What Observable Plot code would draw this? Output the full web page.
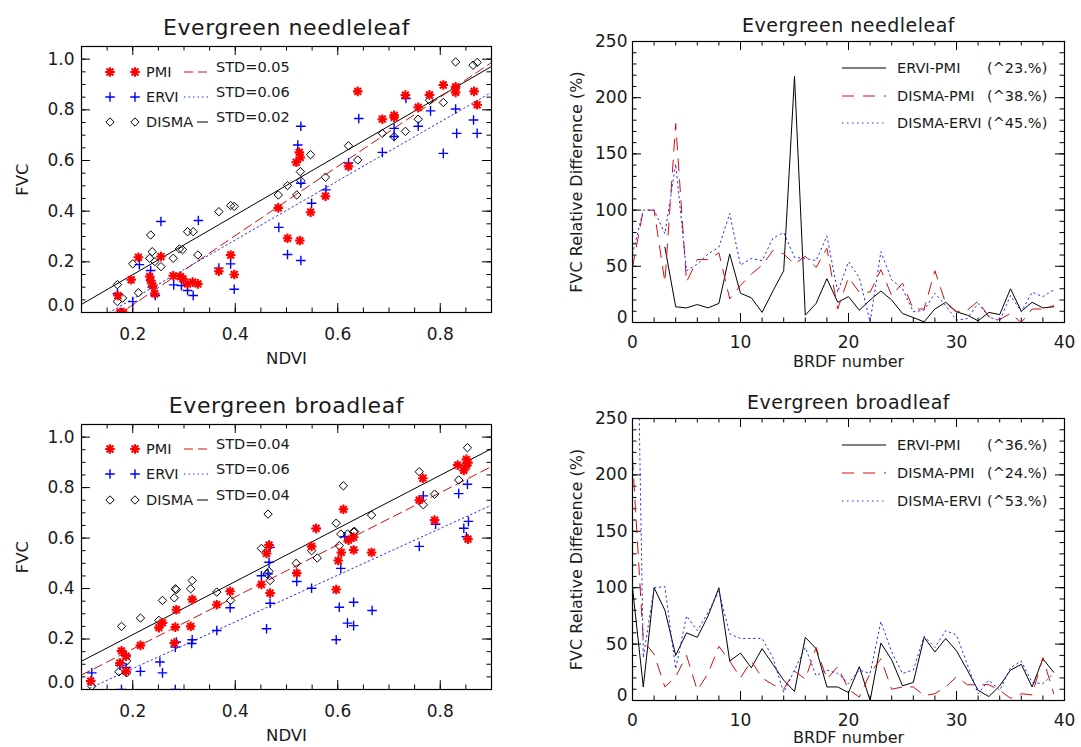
<!DOCTYPE html>
<html><head><meta charset="utf-8">
<script src="https://cdn.jsdelivr.net/npm/d3@7"></script>
<script src="https://cdn.jsdelivr.net/npm/@observablehq/plot@0.6"></script>
<style>
body{margin:0;background:#fff;}
#root{position:relative;width:1081px;height:747px;overflow:hidden;background:#fff;}
.panel{position:absolute;}
</style></head><body><div id="root"></div>
<script>
// ---------- DATA ----------
// Evergreen needleleaf scatter: [NDVI, FVC]
const needlePMI = [[0.171,0.067],[0.175,0.0],[0.182,0.0],[0.197,0.129],[0.211,0.218],[0.233,0.142],[0.235,0.126],[0.239,0.106],[0.243,0.074],[0.255,0.221],[0.279,0.145],[0.293,0.142],[0.298,0.133],[0.307,0.113],[0.317,0.12],[0.327,0.113],[0.368,0.163],[0.391,0.227],[0.398,0.150],[0.484,0.413],[0.502,0.293],[0.519,0.593],[0.525,0.632],[0.527,0.612],[0.526,0.284],[0.547,0.396],[0.576,0.459],[0.621,0.577],[0.639,0.873],[0.687,0.763],[0.710,0.770],[0.710,0.778],[0.732,0.858],[0.757,0.810],[0.779,0.859],[0.806,0.898],[0.830,0.891],[0.830,0.869],[0.866,0.873],[0.872,0.820]];
const needleERVI = [[0.170,0.074],[0.178,0.0],[0.200,0.043],[0.213,0.189],[0.235,0.166],[0.235,0.126],[0.238,0.100],[0.244,0.067],[0.255,0.359],[0.280,0.109],[0.295,0.106],[0.307,0.087],[0.318,0.067],[0.328,0.363],[0.368,0.175],[0.391,0.192],[0.398,0.092],[0.485,0.336],[0.502,0.229],[0.522,0.661],[0.528,0.735],[0.528,0.510],[0.528,0.205],[0.549,0.431],[0.577,0.484],[0.621,0.590],[0.641,0.766],[0.687,0.632],[0.710,0.727],[0.710,0.695],[0.733,0.845],[0.757,0.735],[0.781,0.796],[0.806,0.628],[0.830,0.803],[0.832,0.707],[0.865,0.760],[0.872,0.707]];
const needleDISMA = [[0.170,0.110],[0.170,0.043],[0.180,0.057],[0.200,0.192],[0.211,0.078],[0.235,0.306],[0.233,0.214],[0.238,0.240],[0.243,0.201],[0.255,0.181],[0.279,0.214],[0.291,0.251],[0.297,0.248],[0.307,0.319],[0.318,0.319],[0.327,0.227],[0.368,0.398],[0.391,0.422],[0.398,0.419],[0.484,0.464],[0.502,0.501],[0.520,0.464],[0.527,0.556],[0.528,0.520],[0.547,0.623],[0.576,0.534],[0.621,0.658],[0.639,0.602],[0.687,0.707],[0.710,0.694],[0.732,0.715],[0.757,0.763],[0.779,0.838],[0.806,0.829],[0.830,0.989],[0.830,0.885],[0.864,0.976],[0.872,0.987]];
// regression fits [slope, intercept]
const needleFitPMI = [1.367, -0.2435];
const needleFitERVI = [1.165, -0.1796];
const needleFitDISMA = [1.174, -0.0854];
const needleSTD = ["STD=0.05", "STD=0.06", "STD=0.02"];

// Evergreen broadleaf scatter
const broadPMI = [[0.118,0.033],[0.175,0.105],[0.178,0.153],[0.187,0.132],[0.187,0.072],[0.215,0.175],[0.251,0.245],[0.258,0.264],[0.285,0.316],[0.283,0.247],[0.281,0.184],[0.313,0.250],[0.316,0.357],[0.364,0.336],[0.390,0.389],[0.451,0.416],[0.461,0.539],[0.466,0.572],[0.468,0.382],[0.520,0.461],[0.549,0.567],[0.558,0.638],[0.597,0.396],[0.601,0.511],[0.607,0.543],[0.611,0.714],[0.621,0.592],[0.631,0.603],[0.631,0.553],[0.666,0.543],[0.759,0.750],[0.766,0.837],[0.789,0.671],[0.834,0.889],[0.846,0.868],[0.851,0.912],[0.851,0.886],[0.854,0.596],[0.854,0.899]];
const broadERVI = [[0.120,0.066],[0.178,0.0],[0.175,0.096],[0.187,0.136],[0.187,0.087],[0.215,0.072],[0.253,0.109],[0.258,0.066],[0.283,0.0],[0.283,0.168],[0.285,0.188],[0.315,0.182],[0.316,0.197],[0.364,0.234],[0.390,0.324],[0.451,0.451],[0.461,0.241],[0.464,0.458],[0.466,0.504],[0.468,0.563],[0.468,0.342],[0.520,0.428],[0.549,0.401],[0.558,0.638],[0.597,0.197],[0.603,0.326],[0.606,0.480],[0.614,0.605],[0.619,0.263],[0.631,0.346],[0.631,0.253],[0.667,0.313],[0.759,0.567],[0.767,0.767],[0.791,0.655],[0.836,0.776],[0.846,0.639],[0.851,0.605],[0.853,0.813],[0.855,0.666]];
const broadDISMA = [[0.120,0.013],[0.173,0.070],[0.178,0.250],[0.188,0.113],[0.188,0.066],[0.215,0.283],[0.251,0.274],[0.258,0.353],[0.281,0.363],[0.283,0.399],[0.285,0.396],[0.313,0.399],[0.316,0.432],[0.364,0.386],[0.391,0.353],[0.451,0.559],[0.464,0.695],[0.462,0.458],[0.466,0.468],[0.468,0.432],[0.519,0.500],[0.549,0.550],[0.560,0.521],[0.597,0.659],[0.603,0.570],[0.611,0.807],[0.606,0.616],[0.619,0.616],[0.631,0.625],[0.633,0.626],[0.666,0.691],[0.759,0.863],[0.767,0.732],[0.789,0.774],[0.836,0.830],[0.853,0.958]];
const broadFitPMI = [1.0325, -0.046];
const broadFitERVI = [0.925, -0.102];
const broadFitDISMA = [1.0525, 0.0068];
const broadSTD = ["STD=0.04", "STD=0.06", "STD=0.04"];

// BRDF relative differences (%), BRDF number 0..39
const brdfNumber = d3.range(40);
const needleErviPmi = [null,null,null,67,14,13,16,13,17,61,26,22,9,28,46,219,6.5,17,39,18,23,11,20,28,20,8,4.4,0.6,12,18,9.5,6.5,1.5,9,7,30,10,18,13,14];
const needleDismaPmi = [49,100,100,36,177,36,56,56,62,21,33,43,51,64,61,52,59,49,66,12,40,27,27,47,24,35,12,12,46,17,9.5,11,19,5,2.7,8,0,12,12,15];
const needleDismaErvi = [61,100,100,79,141,46,52,61,67,97,51,57,55,75,80,58,57,55,77,27,54,40,0.5,63,38,30,9.5,11,26,15,2,3.5,17,5,1.5,24,9.5,27,23,29];
const broadErviPmi = [100,12,100,80,40,60,56,75,100,35,42,29,46,32,18,8,56,46,12,12,7,30,0,51,36,13,16,56,43,55,44,27,9,3.5,13,27,32,12,37,25];
const broadDismaPmi = [215,53,41,12,21,40,9,24,48,35,20,35,20,14,10,26,19,47,19,30,10,3,24,37,10,12,12,4.4,6,12,21,14,14,14,9,2,6,5,38,6];
const broadDismaErvi = [600,38,100,101,28,75,62,78,97,59,55,55,55,38,7,27,47,22,27,24,15,27,24,70,43,24,27,57,47,62,58,32,6,18,9,29,35,16,15,24];
const needleMeans = ["(^23.%)", "(^38.%)", "(^45.%)"];
const broadMeans = ["(^36.%)", "(^24.%)", "(^53.%)"];
const pairNames = ["ERVI-PMI", "DISMA-PMI", "DISMA-ERVI"];
const methodNames = ["PMI", "ERVI", "DISMA"];

// ---------- STYLE ----------
const FONT = '"DejaVu Sans", sans-serif';
const RED = "#ff0000", DRED = "#d01010", BLUE = "#0000ff", DBLUE = "#2a2aff";

const symAsterisk = {draw(ctx, size){const r=Math.sqrt(size/Math.PI), d=r*Math.SQRT1_2;
  ctx.moveTo(-r,0);ctx.lineTo(r,0);ctx.moveTo(0,-r);ctx.lineTo(0,r);
  ctx.moveTo(-d,-d);ctx.lineTo(d,d);ctx.moveTo(-d,d);ctx.lineTo(d,-d);}};
const symPlus = {draw(ctx, size){const r=Math.sqrt(size/Math.PI);
  ctx.moveTo(-r,0);ctx.lineTo(r,0);ctx.moveTo(0,-r);ctx.lineTo(0,r);}};
const symDiamond = {draw(ctx, size){const r=Math.sqrt(size/Math.PI);
  ctx.moveTo(0,-r);ctx.lineTo(r,0);ctx.lineTo(0,r);ctx.lineTo(-r,0);ctx.closePath();}};

const methodStyle = {
  PMI: {sym: symAsterisk, stroke: RED, sw: 2.1, r: 4.8, line: DRED, dash: "9,5"},
  ERVI: {sym: symPlus, stroke: BLUE, sw: 1.4, r: 4.8, line: DBLUE, dash: "1.5,3"},
  DISMA: {sym: symDiamond, stroke: "black", sw: 1, r: 4.2, line: "black", dash: null}
};

function frameTicks(xMinor, xMajor, yMinor, yMajor, fw, fh){
  const s = {stroke: "black", strokeWidth: 1};
  return [
    Plot.tickX(xMinor, {x: d=>d, insetTop: fh-4.5, ...s}),
    Plot.tickX(xMinor, {x: d=>d, insetBottom: fh-4.5, ...s}),
    Plot.tickX(xMajor, {x: d=>d, insetTop: fh-9, ...s}),
    Plot.tickX(xMajor, {x: d=>d, insetBottom: fh-9, ...s}),
    Plot.tickY(yMinor, {y: d=>d, insetRight: fw-4.5, ...s}),
    Plot.tickY(yMinor, {y: d=>d, insetLeft: fw-4.5, ...s}),
    Plot.tickY(yMajor, {y: d=>d, insetRight: fw-9, ...s}),
    Plot.tickY(yMajor, {y: d=>d, insetLeft: fw-9, ...s})
  ];
}

function legend(svg, items){
  const g = d3.select(svg).append("g").attr("font-family", FONT).attr("fill", "#1a1a1a").attr("text-anchor", "start");
  for (const it of items){
    if (it.kind === "sym") g.append("path").attr("transform", `translate(${it.x},${it.y})`)
      .attr("d", d3.symbol(it.sym, Math.PI*it.r*it.r)()).attr("fill","none")
      .attr("stroke", it.stroke).attr("stroke-width", it.sw);
    else if (it.kind === "line") g.append("line").attr("x1",it.x1).attr("x2",it.x2).attr("y1",it.y).attr("y2",it.y)
      .attr("stroke", it.stroke).attr("stroke-width", 1).attr("stroke-dasharray", it.dash);
    else g.append("text").attr("x", it.x).attr("y", it.y).attr("dy","0.36em").attr("text-anchor","start")
      .attr("font-size", it.size).text(it.text);
  }
}

// IDL draws the lowest y tick label a little above its tick
function liftBottomLabel(svg, label, shift){
  d3.select(svg).selectAll('g[aria-label="y-axis tick label"] text').each(function(){
    if (this.textContent === label) d3.select(this).attr("dy", (parseFloat(d3.select(this).attr("dy")) || 0) - shift + "px");
  });
}

function place(node, left, top){
  const div = document.createElement("div");
  div.className = "panel"; div.style.left = left+"px"; div.style.top = top+"px";
  div.appendChild(node); document.getElementById("root").appendChild(div);
}

function scatterPanel(cfg){
  const {width, height, ml, mr, mt, mb} = cfg;
  const fw = width-ml-mr, fh = height-mt-mb;
  const xDom = [0.1, 0.9];
  const sets = {PMI: cfg.pmi, ERVI: cfg.ervi, DISMA: cfg.disma};
  const fits = {PMI: cfg.fitPMI, ERVI: cfg.fitERVI, DISMA: cfg.fitDISMA};
  const marks = [
    ...frameTicks(d3.range(0.1, 0.901, 0.05), [0.2,0.4,0.6,0.8], d3.range(0, 1.051, 0.05), [0,0.2,0.4,0.6,0.8,1.0], fw, fh)
  ];
  for (const m of ["DISMA","PMI","ERVI"]) {
    const st = methodStyle[m], [b, a] = fits[m];
    marks.push(Plot.line(xDom.map(x => ({x, y: a + b*x})), {x:"x", y:"y", stroke: st.line, strokeWidth: 1, strokeDasharray: st.dash, clip: true}));
  }
  for (const m of ["DISMA","ERVI","PMI"]) {
    const st = methodStyle[m];
    marks.push(Plot.dot(sets[m], {x: d=>d[0], y: d=>d[1], symbol: st.sym, r: st.r, fill: "none", stroke: st.stroke, strokeWidth: st.sw, clip: true}));
  }
  marks.push(
    Plot.frame({stroke: "black", strokeWidth: 1.2}),
    Plot.axisX([0.2,0.4,0.6,0.8], {tickSize: 0, tickPadding: 15, tickFormat: d3.format(".1f"), label: null}),
    Plot.axisY([0,0.2,0.4,0.6,0.8,1.0], {tickSize: 0, tickPadding: 7, tickFormat: d3.format(".1f"), label: null}),
    Plot.text([cfg.title], {text: d=>d, frameAnchor: "top", dy: cfg.titleDy, fontSize: 22, textAnchor: "middle", lineAnchor: "middle"}),
    Plot.text(["NDVI"], {text: d=>d, frameAnchor: "bottom", dy: cfg.xlabDy, fontSize: 16.5, textAnchor: "middle", lineAnchor: "middle"}),
    Plot.text(["FVC"], {text: d=>d, frameAnchor: "left", dx: -59, rotate: -90, fontSize: 16.5, textAnchor: "middle", lineAnchor: "middle"})
  );
  const p = Plot.plot({
    width, height, marginLeft: ml, marginRight: mr, marginTop: mt, marginBottom: mb,
    x: {domain: xDom}, y: {domain: [0, 1.05]},
    style: {fontFamily: FONT, fontSize: "17px", color: "#1a1a1a", background: "transparent", overflow: "visible"},
    marks
  });
  liftBottomLabel(p, "0.0", 7);
  d3.select(p).selectAll("text").filter(function(){ return this.textContent === cfg.title; }).attr("letter-spacing", "0.6px");
  const rows = cfg.rows, items = [];
  methodNames.forEach((m, i) => {
    const st = methodStyle[m], y = rows[i];
    items.push({kind:"sym", sym: st.sym, r: st.r, stroke: st.stroke, sw: st.sw, x: 110, y});
    items.push({kind:"sym", sym: st.sym, r: st.r, stroke: st.stroke, sw: st.sw, x: 135, y});
    items.push({kind:"text", x: 146, y, text: m, size: 14.5});
    items.push({kind:"line", x1: m === "DISMA" ? 197 : 184, x2: 208, y, stroke: st.line, dash: st.dash});
    items.push({kind:"text", x: 216, y: y-5, text: cfg.std[i], size: 14.5});
  });
  legend(p, items);
  place(p, cfg.left, cfg.top);
}

const pairStyle = [
  {stroke: "black", dash: null},
  {stroke: DRED, dash: "12,9"},
  {stroke: DBLUE, dash: "1.5,3.5"}
];

function diffPanel(cfg){
  const {width, height, ml, mr, mt, mb} = cfg;
  const fw = width-ml-mr, fh = height-mt-mb;
  const series = [cfg.s1, cfg.s2, cfg.s3];
  const marks = [...frameTicks(d3.range(0, 40.1, 2), [0,10,20,30,40], d3.range(0, 250.1, 10), [0,50,100,150,200,250], fw, fh)];
  series.forEach((s, k) => {
    marks.push(Plot.line(brdfNumber.map(i => ({i, v: s[i]})), {x: "i", y: "v", stroke: pairStyle[k].stroke, strokeDasharray: pairStyle[k].dash, strokeWidth: 1, clip: true}));
  });
  marks.push(
    Plot.frame({stroke: "black", strokeWidth: 1.2}),
    Plot.axisX([0,10,20,30,40], {tickSize: 0, tickPadding: 13, tickFormat: d3.format("d"), label: null}),
    Plot.axisY([0,50,100,150,200,250], {tickSize: 0, tickPadding: 5, tickFormat: d3.format("d"), label: null}),
    Plot.text([cfg.title], {text: d=>d, frameAnchor: "top", dy: cfg.titleDy, fontSize: 19, textAnchor: "middle", lineAnchor: "middle"}),
    Plot.text(["BRDF number"], {text: d=>d, frameAnchor: "bottom", dy: cfg.xlabDy, fontSize: 16, textAnchor: "middle", lineAnchor: "middle"}),
    Plot.text(["FVC Relative Difference (%)"], {text: d=>d, frameAnchor: "left", dx: -56, rotate: -90, fontSize: 16, textAnchor: "middle", lineAnchor: "middle"})
  );
  const p = Plot.plot({
    width, height, marginLeft: ml, marginRight: mr, marginTop: mt, marginBottom: mb,
    x: {domain: [0, 40]}, y: {domain: [0, 250]},
    style: {fontFamily: FONT, fontSize: "17px", color: "#1a1a1a", background: "transparent", overflow: "visible"},
    marks
  });
  liftBottomLabel(p, "0", 5);
  d3.select(p).selectAll("text").filter(function(){ return this.textContent === cfg.title; }).attr("letter-spacing", "0.5px");
  const items = [];
  pairNames.forEach((n, k) => {
    const y = cfg.rows[k];
    items.push({kind:"line", x1: 302, x2: 346, y, stroke: pairStyle[k].stroke, dash: pairStyle[k].dash});
    items.push({kind:"text", x: 357, y, text: n, size: 14.5});
    items.push({kind:"text", x: 447, y, text: cfg.means[k], size: 14.5});
  });
  legend(p, items);
  place(p, cfg.left, cfg.top);
}

scatterPanel({left: 0, top: 0, width: 540, height: 375, ml: 81, mr: 49, mt: 46, mb: 63,
  title: "Evergreen needleleaf", titleDy: -19, xlabDy: 46,
  pmi: needlePMI, ervi: needleERVI, disma: needleDISMA,
  fitPMI: needleFitPMI, fitERVI: needleFitERVI, fitDISMA: needleFitDISMA,
  std: needleSTD, rows: [72, 97, 122]});
scatterPanel({left: 0, top: 375, width: 540, height: 372, ml: 81, mr: 49, mt: 49, mb: 58,
  title: "Evergreen broadleaf", titleDy: -19, xlabDy: 46,
  pmi: broadPMI, ervi: broadERVI, disma: broadDISMA,
  fitPMI: broadFitPMI, fitERVI: broadFitERVI, fitDISMA: broadFitDISMA,
  std: broadSTD, rows: [74, 99, 125]});
diffPanel({left: 540, top: 0, width: 541, height: 375, ml: 92, mr: 17, mt: 41, mb: 53,
  title: "Evergreen needleleaf", titleDy: -16, xlabDy: 39,
  s1: needleErviPmi, s2: needleDismaPmi, s3: needleDismaErvi, means: needleMeans, rows: [68, 96, 123]});
diffPanel({left: 540, top: 375, width: 541, height: 372, ml: 92, mr: 17, mt: 43, mb: 47,
  title: "Evergreen broadleaf", titleDy: -16, xlabDy: 37,
  s1: broadErviPmi, s2: broadDismaPmi, s3: broadDismaErvi, means: broadMeans, rows: [70, 98, 126]});
</script></body></html>
